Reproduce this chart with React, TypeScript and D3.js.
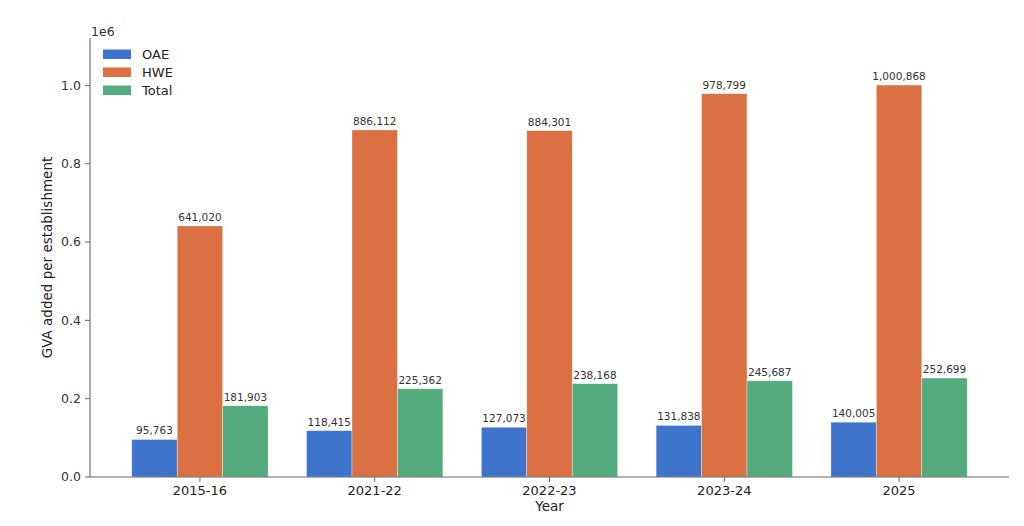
import React from "react";
import * as d3 from "d3";

const categories = ["2015-16", "2021-22", "2022-23", "2023-24", "2025"];
const seriesNames = ["OAE", "HWE", "Total"];
const oae = [95763, 118415, 127073, 131838, 140005];
const hwe = [641020, 886112, 884301, 978799, 1000868];
const total = [181903, 225362, 238168, 245687, 252699];
const yTicks = [0, 0.2, 0.4, 0.6, 0.8, 1.0];
const colors = ["#3e74cc", "#db7042", "#54ab7c"];

const W = 1024;
const H = 526;
const M = { left: 90, right: 1009, top: 38, bottom: 477 };
const barW = 0.26;
const font = "DejaVu Sans, sans-serif";

export default function App() {
  const series = [oae, hwe, total];
  const maxV = d3.max(series.flat()) as number;
  const x = d3
    .scaleLinear()
    .domain([-1.5 * barW - 0.239, categories.length - 1 + 1.5 * barW + 0.239])
    .range([M.left, M.right]);
  const y = d3.scaleLinear().domain([0, maxV * 1.12]).range([M.bottom, M.top]);
  const fmt = d3.format(",");

  return (
    <svg width={W} height={H} style={{ position: "absolute", left: 0, top: 0 }} fontFamily={font}>
      <rect width={W} height={H} fill="#fff" />
      {series.map((vals, si) =>
        vals.map((v, ci) => {
          const cx = x(ci + (si - 1) * barW);
          const x0 = x(ci + (si - 1) * barW - barW / 2);
          const x1 = x(ci + (si - 1) * barW + barW / 2);
          return (
            <g key={`${si}-${ci}`}>
              <rect
                x={x0}
                y={y(v)}
                width={x1 - x0}
                height={y(0) - y(v)}
                fill={colors[si]}
                stroke="#ffffff"
                strokeOpacity={0.6}
                strokeWidth={0.6}
              />
              <text x={cx} y={y(v) - 5} textAnchor="middle" fontSize={10.5} fill="#333">
                {fmt(v)}
              </text>
            </g>
          );
        })
      )}
      {/* axes */}
      <line x1={M.left} x2={M.left} y1={M.top} y2={M.bottom} stroke="#666" strokeWidth={1.1} />
      <line x1={M.left} x2={M.right} y1={M.bottom} y2={M.bottom} stroke="#666" strokeWidth={1.1} />
      {yTicks.map((t) => (
        <g key={t}>
          <line x1={M.left - 5} x2={M.left} y1={y(t * 1e6)} y2={y(t * 1e6)} stroke="#666" strokeWidth={1} />
          <text x={M.left - 9} y={y(t * 1e6)} dy="0.35em" textAnchor="end" fontSize={12.5} fill="#333">
            {t.toFixed(1)}
          </text>
        </g>
      ))}
      <text x={91} y={36} fontSize={12.5} fill="#333">1e6</text>
      {categories.map((c, i) => (
        <g key={c}>
          <line x1={x(i)} x2={x(i)} y1={M.bottom} y2={M.bottom + 5} stroke="#666" strokeWidth={1} />
          <text x={x(i)} y={M.bottom + 18} textAnchor="middle" fontSize={13} fill="#222">
            {c}
          </text>
        </g>
      ))}
      <text x={(M.left + M.right) / 2} y={511} textAnchor="middle" fontSize={13.5} fill="#222">
        Year
      </text>
      <text
        transform={`translate(52, ${(M.top + M.bottom) / 2}) rotate(-90)`}
        textAnchor="middle"
        fontSize={13.5}
        fill="#222"
      >
        GVA added per establishment
      </text>
      {/* legend */}
      {seriesNames.map((n, i) => (
        <g key={n} transform={`translate(103, ${54 + i * 18})`}>
          <rect x={0} y={-4.5} width={28} height={9.5} fill={colors[i]} />
          <text x={39} y={0} dy="0.36em" fontSize={13} fill="#222">
            {n}
          </text>
        </g>
      ))}
    </svg>
  );
}
